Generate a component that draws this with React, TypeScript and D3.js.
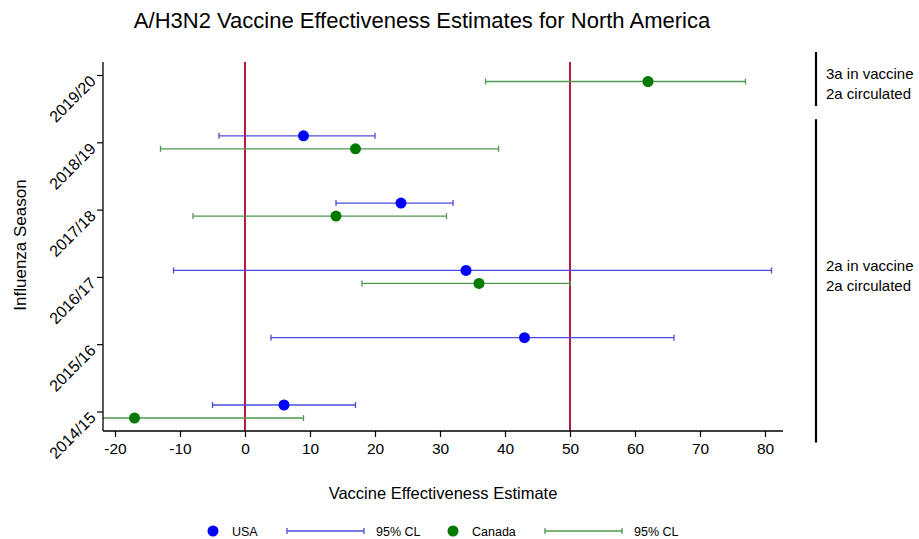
import React, { useEffect, useRef } from 'react';
import * as d3 from 'd3';

// seasons, top to bottom
const seasons = ['2019/20', '2018/19', '2017/18', '2016/17', '2015/16', '2014/15'];

// USA estimates (null = no estimate)
const usaEst = [null, 9, 24, 34, 43, 6];
const usaLow = [null, -4, 14, -11, 4, -5];
const usaHigh = [null, 20, 32, 81, 66, 17];

// Canada estimates
const canEst = [62, 17, 14, 36, null, -17];
const canLow = [37, -13, -8, 18, null, -38];
const canHigh = [77, 39, 31, 50, null, 9];

const xTicks = [-20, -10, 0, 10, 20, 30, 40, 50, 60, 70, 80];
const refLines = [0, 50];

// bracket spans (seasons) and label position (season row)
const annotations = [
  { from: '2019/20', to: '2019/20', at: '2019/20', shift: 4, lines: ['3a in vaccine', '2a circulated'] },
  { from: '2018/19', to: '2014/15', at: '2016/17', shift: -6, lines: ['2a in vaccine', '2a circulated'] },
];

const FONT = '"Liberation Sans", Arial, Helvetica, sans-serif';

const App = () => {
  const ref = useRef<SVGSVGElement | null>(null);

  useEffect(() => {
    const svg = d3.select(ref.current);
    svg.selectAll('*').remove();

    const left = 103, right = 783, top = 62, bottom = 431;

    const x = d3.scaleLinear().domain([-20, 80]).range([115, 765]);
    const y = d3.scalePoint().domain(seasons).range([75, 411.5]);

    const usaColor = '#0000ff', usaLine = '#4d4dd9';
    const canColor = '#007a00', canLine = '#4f9a4f';
    const off = 6.5;

    // title
    svg.append('text')
      .attr('x', 422).attr('y', 28)
      .attr('text-anchor', 'middle')
      .style('font-family', FONT).style('font-size', '22px')
      .text('A/H3N2 Vaccine Effectiveness Estimates for North America');

    svg.append('defs').append('clipPath').attr('id', 'plotclip')
      .append('rect').attr('x', left).attr('y', top).attr('width', right - left).attr('height', bottom - top);

    const plot = svg.append('g').attr('clip-path', 'url(#plotclip)');

    // reference lines
    plot.selectAll('.ref').data(refLines).enter().append('line')
      .attr('x1', d => x(d)).attr('x2', d => x(d))
      .attr('y1', top).attr('y2', bottom)
      .attr('stroke', '#b8193f').attr('stroke-width', 2);

    const drawSeries = (est, low, high, dy, lineColor, dotColor) => {
      const rows = seasons.map((s, i) => ({ s, e: est[i], l: low[i], h: high[i] })).filter(d => d.e !== null);
      const g = plot.append('g');
      g.selectAll('line.ci').data(rows).enter().append('line')
        .attr('x1', d => x(d.l)).attr('x2', d => x(d.h))
        .attr('y1', d => y(d.s) + dy).attr('y2', d => y(d.s) + dy)
        .attr('stroke', lineColor).attr('stroke-width', 1.3);
      const caps = rows.flatMap(d => [{ s: d.s, v: d.l }, { s: d.s, v: d.h }]);
      g.selectAll('line.cap').data(caps).enter().append('line')
        .attr('x1', d => x(d.v)).attr('x2', d => x(d.v))
        .attr('y1', d => y(d.s) + dy - 3).attr('y2', d => y(d.s) + dy + 3)
        .attr('stroke', lineColor).attr('stroke-width', 1.3);
      g.selectAll('circle').data(rows).enter().append('circle')
        .attr('cx', d => x(d.e)).attr('cy', d => y(d.s) + dy)
        .attr('r', 5.5).attr('fill', dotColor);
    };

    drawSeries(usaEst, usaLow, usaHigh, -off, usaLine, usaColor);
    drawSeries(canEst, canLow, canHigh, off, canLine, canColor);

    // x axis
    const xAxis = svg.append('g')
      .attr('transform', `translate(0,${bottom})`)
      .call(d3.axisBottom(x).tickValues(xTicks).tickFormat(d => String(d))
        .tickSize(6).tickSizeOuter(0).tickPadding(6));
    xAxis.select('.domain').attr('d', `M${left},0H${right}`).attr('stroke-width', 1.3);
    xAxis.selectAll('.tick line').attr('stroke-width', 1.2);
    xAxis.selectAll('.tick text')
      .style('font-family', FONT).style('font-size', '15.5px').attr('fill', '#000');

    // y axis
    const yAxis = svg.append('g')
      .attr('transform', `translate(${left},0)`)
      .call(d3.axisLeft(y).tickSize(6).tickSizeOuter(0).tickPadding(4));
    yAxis.select('.domain').attr('d', `M0,${top}V${bottom}`).attr('stroke-width', 1.3);
    yAxis.selectAll('.tick line').attr('stroke-width', 1.2);
    yAxis.selectAll('.tick text')
      .style('font-family', FONT).style('font-size', '16px').attr('fill', '#000')
      .attr('x', -13).attr('dy', '0.6em')
      .attr('transform', 'rotate(-45,-13,0)')
      .attr('text-anchor', 'end');

    // axis titles
    svg.append('text')
      .attr('x', 443).attr('y', 499)
      .attr('text-anchor', 'middle')
      .style('font-family', FONT).style('font-size', '16.5px')
      .text('Vaccine Effectiveness Estimate');
    svg.append('text')
      .attr('transform', 'translate(26,245) rotate(-90)')
      .attr('text-anchor', 'middle')
      .style('font-family', FONT).style('font-size', '17px')
      .text('Influenza Season');

    // right annotations
    const ann = svg.append('g');
    annotations.forEach(a => {
      const y1 = y(a.from) - 23, y2 = y(a.to) + 31;
      ann.append('line')
        .attr('x1', 816).attr('x2', 816).attr('y1', y1).attr('y2', y2)
        .attr('stroke', '#000').attr('stroke-width', 2.2);
      a.lines.forEach((t, i) => {
        ann.append('text')
          .attr('x', 826).attr('y', y(a.at) + a.shift + i * 20)
          .style('font-family', FONT).style('font-size', '15px')
          .text(t);
      });
    });

    // legend
    const leg = svg.append('g').style('font-family', FONT).style('font-size', '12.5px');
    const ly = 531;
    const legendItems = [
      { x: 213, type: 'dot', color: usaColor, label: 'USA' },
      { x: 287, type: 'ci', color: usaLine, label: '95% CL' },
      { x: 453, type: 'dot', color: canColor, label: 'Canada' },
      { x: 545, type: 'ci', color: canLine, label: '95% CL' },
    ];
    legendItems.forEach(it => {
      if (it.type === 'dot') {
        leg.append('circle').attr('cx', it.x).attr('cy', ly).attr('r', 5.5).attr('fill', it.color);
        leg.append('text').attr('x', it.x + 19).attr('y', ly + 4.5).text(it.label);
      } else {
        leg.append('line').attr('x1', it.x).attr('x2', it.x + 77).attr('y1', ly).attr('y2', ly)
          .attr('stroke', it.color).attr('stroke-width', 1.3);
        [it.x, it.x + 77].forEach(cx => leg.append('line')
          .attr('x1', cx).attr('x2', cx).attr('y1', ly - 3).attr('y2', ly + 3)
          .attr('stroke', it.color).attr('stroke-width', 1.3));
        leg.append('text').attr('x', it.x + 89).attr('y', ly + 4.5).text(it.label);
      }
    });
  }, []);

  return (
    <svg ref={ref} width={919} height={539}
      style={{ position: 'absolute', left: 0, top: 0, background: '#fff' }} />
  );
};

export default App;
